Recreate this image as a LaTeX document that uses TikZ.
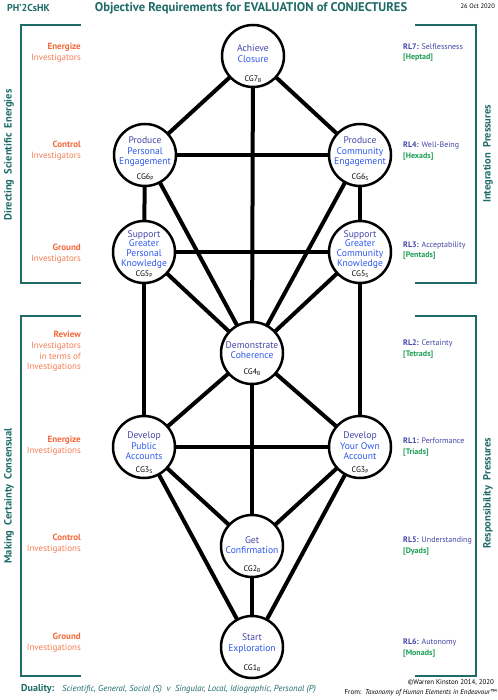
\documentclass[tikz,border=0pt]{standalone}
\usepackage{fontspec}
\setmainfont{PT Sans}
\usetikzlibrary{backgrounds}
\definecolor{tealA}{HTML}{1E6B67}
\definecolor{orngA}{HTML}{F2683A}
\definecolor{orngB}{HTML}{F47E52}
\definecolor{indigA}{HTML}{4545A8}
\definecolor{bluA}{HTML}{2E58EE}
\definecolor{grnA}{HTML}{1E9E55}
\tikzset{
  cgnode/.style={circle, draw=black, line width=2.5pt, fill=white, minimum size=62pt, inner sep=0pt},
  ntext/.style={align=center, text=bluA, font=\fontsize{9.6}{10.5}\selectfont, inner sep=0pt},
  cglab/.style={font=\fontsize{8}{9}\selectfont, inner sep=0pt},
  link/.style={line width=4pt, black},
  bracket/.style={draw=tealA, line width=2pt},
  lefttxt/.style={align=right, anchor=east, inner sep=0pt, font=\fontsize{9}{10.8}\selectfont},
  righttxt/.style={align=left, anchor=west, inner sep=0pt, text=indigA, font=\fontsize{8}{10.5}\selectfont},
  sidetitle/.style={rotate=90, text=tealA, inner sep=0pt, font=\fontsize{10.5}{12}\selectfont\bfseries},
}
\newcommand{\sub}[1]{\raisebox{-0.6pt}{\fontsize{5.5}{6}\selectfont #1}}
\newcommand{\lft}[2]{{\bfseries\color{orngA}#1}\\{\color{orngB}#2}}
\begin{document}
\begin{tikzpicture}[x=1pt,y=-1pt]
\useasboundingbox (0,0) rectangle (497,700);

% header
\node[text=tealA, font=\fontsize{10}{12}\selectfont\bfseries, anchor=west, inner sep=0pt] (hdr) at (7,8) {PH’2CsHK};
\node[text=tealA, font=\fontsize{12.6}{14}\selectfont\bfseries, inner sep=0pt] (title) at (251,8) {Objective Requirements for EVALUATION of CONJECTURES};
\node[font=\fontsize{6.5}{7}\selectfont, anchor=east, inner sep=0pt] (date) at (495,6) {26 Oct 2020};

% brackets
\draw[bracket] (81,25) -- (21,25) -- (21,283) -- (81,283);
\draw[bracket] (81,316) -- (21,316) -- (21,676) -- (81,676);
\draw[bracket] (415,25) -- (476,25) -- (476,283) -- (415,283);
\draw[bracket] (415,316) -- (476,316) -- (476,676) -- (415,676);

\node[sidetitle] (tl) at (9,155) {Directing\ \ Scientific\ \ Energies};
\node[sidetitle] (bl) at (9,496) {Making\ \ Certainty\ \ Consensual};
\node[sidetitle] (tr) at (488,154) {Integration\ \ Pressures};
\node[sidetitle] (br) at (488,493) {Responsibility\ \ Pressures};

% left labels
\node[lefttxt] (l1) at (81,52.5) {\lft{Energize}{Investigators}};
\node[lefttxt] (l2) at (81,150.5) {\lft{Control}{Investigators}};
\node[lefttxt] (l3) at (81,253.5) {\lft{Ground}{Investigators}};
\node[lefttxt] (l4) at (81,351.5) {{\bfseries\color{orngA}Review}\\{\color{orngB}Investigators}\\{\color{orngB}in terms of}\\{\color{orngB}Investigations}};
\node[lefttxt] (l5) at (81,446) {\lft{Energize}{Investigations}};
\node[lefttxt] (l6) at (81,543.5) {\lft{Control}{Investigations}};
\node[lefttxt] (l7) at (81,642.5) {\lft{Ground}{Investigations}};

% right labels
\node[righttxt] (r7) at (403,52.5) {\textbf{RL7:} Selflessness\\{\color{grnA}\bfseries [Heptad]}};
\node[righttxt] (r4) at (403,151) {\textbf{RL4:} Well-Being\\{\color{grnA}\bfseries [Hexads]}};
\node[righttxt] (r3) at (403,250.5) {\textbf{RL3:} Acceptability\\{\color{grnA}\bfseries [Pentads]}};
\node[righttxt] (r2) at (403,349) {\textbf{RL2:} Certainty\\{\color{grnA}\bfseries [Tetrads]}};
\node[righttxt] (r1) at (403,447) {\textbf{RL1:} Performance\\{\color{grnA}\bfseries [Triads]}};
\node[righttxt] (r5) at (403,546) {\textbf{RL5:} Understanding\\{\color{grnA}\bfseries [Dyads]}};
\node[righttxt] (r6) at (403,648) {\textbf{RL6:} Autonomy\\{\color{grnA}\bfseries [Monads]}};

% circles
\node[cgnode] (n7) at (253,56) {};
\node[cgnode] (n6p) at (145,155) {};
\node[cgnode] (n6s) at (360,155) {};
\node[cgnode] (n5p) at (144,252) {};
\node[cgnode] (n5s) at (360,252) {};
\node[cgnode] (n4) at (252,353) {};
\node[cgnode] (n3s) at (144,447) {};
\node[cgnode] (n3p) at (360,447) {};
\node[cgnode] (n2) at (252,546) {};
\node[cgnode] (n1) at (252,647) {};

% connectors (behind circles)
\begin{pgfonlayer}{background}
\draw[link] (n7.center) -- (n6p.center);
\draw[link] (n7.center) -- (n6s.center);
\draw[link] (n7.center) -- (n4.center);
\draw[link] (n6p.center) -- (n6s.center);
\draw[link] (n6p.center) -- (n5p.center);
\draw[link] (n6p.center) -- (n4.center);
\draw[link] (n6s.center) -- (n5s.center);
\draw[link] (n6s.center) -- (n4.center);
\draw[link] (n5p.center) -- (n5s.center);
\draw[link] (n5p.center) -- (n4.center);
\draw[link] (n5p.center) -- (n3s.center);
\draw[link] (n5s.center) -- (n4.center);
\draw[link] (n5s.center) -- (n3p.center);
\draw[link] (n4.center) -- (n3s.center);
\draw[link] (n4.center) -- (n3p.center);
\draw[link] (n4.center) -- (n2.center);
\draw[link] (n3s.center) -- (n3p.center);
\draw[link] (n3s.center) -- (n2.center);
\draw[link] (n3s.center) -- (n1.center);
\draw[link] (n3p.center) -- (n2.center);
\draw[link] (n3p.center) -- (n1.center);
\draw[link] (n2.center) -- (n1.center);
\end{pgfonlayer}

% circle texts
\node[ntext] (t7) at (253,53.5) {{\color{indigA}Achieve}\\Closure};
\node[cglab] (c7) at (253,79) {CG7\sub{B}};
\node[ntext] (t6p) at (145,152) {{\color{indigA}Produce}\\Personal\\Engagement};
\node[cglab] (c6p) at (145,177) {CG6\sub{P}};
\node[ntext] (t6s) at (360,152) {{\color{indigA}Produce}\\Community\\Engagement};
\node[cglab] (c6s) at (360,177) {CG6\sub{S}};
\node[ntext, font=\fontsize{9.6}{9.8}\selectfont] (t5p) at (144,249.5) {{\color{indigA}Support}\\Greater\\Personal\\Knowledge};
\node[cglab] (c5p) at (144,274) {CG5\sub{P}};
\node[ntext, font=\fontsize{9.6}{9.8}\selectfont] (t5s) at (360,249.5) {{\color{indigA}Support}\\Greater\\Community\\Knowledge};
\node[cglab] (c5s) at (360,274) {CG5\sub{S}};
\node[ntext] (t4) at (252,350) {{\color{indigA}Demonstrate}\\Coherence};
\node[cglab] (c4) at (252,372) {CG4\sub{B}};
\node[ntext] (t3s) at (144,446) {{\color{indigA}Develop}\\Public\\Accounts};
\node[cglab] (c3s) at (144,470) {CG3\sub{S}};
\node[ntext] (t3p) at (360,446) {{\color{indigA}Develop}\\Your Own\\Account};
\node[cglab] (c3p) at (360,470) {CG3\sub{P}};
\node[ntext] (t2) at (252,545) {{\color{indigA}Get}\\Confirmation};
\node[cglab] (c2) at (252,569) {CG2\sub{B}};
\node[ntext] (t1) at (252,643.5) {{\color{indigA}Start}\\Exploration};
\node[cglab] (c1) at (252,668) {CG1\sub{B}};

% footer
\node[text=tealA, font=\fontsize{10}{12}\selectfont\bfseries, anchor=west, inner sep=0pt] (dual) at (21,689) {Duality:};
\node[text=tealA, font=\fontsize{8.7}{9}\selectfont\itshape, anchor=west, inner sep=0pt] (dualtxt) at (62,689) {Scientific, General, Social (S)\ \ v\ \ Singular, Local, Idiographic, Personal (P)};
\node[font=\fontsize{6.9}{7}\selectfont, anchor=east, inner sep=0pt] (copy) at (494,683) {©Warren Kinston 2014, 2020};
\node[font=\fontsize{7}{7}\selectfont, anchor=east, inner sep=0pt] (from) at (497,693) {From:\ \ \textit{Taxonomy of Human Elements in Endeavour}™};
\end{tikzpicture}
\end{document}
